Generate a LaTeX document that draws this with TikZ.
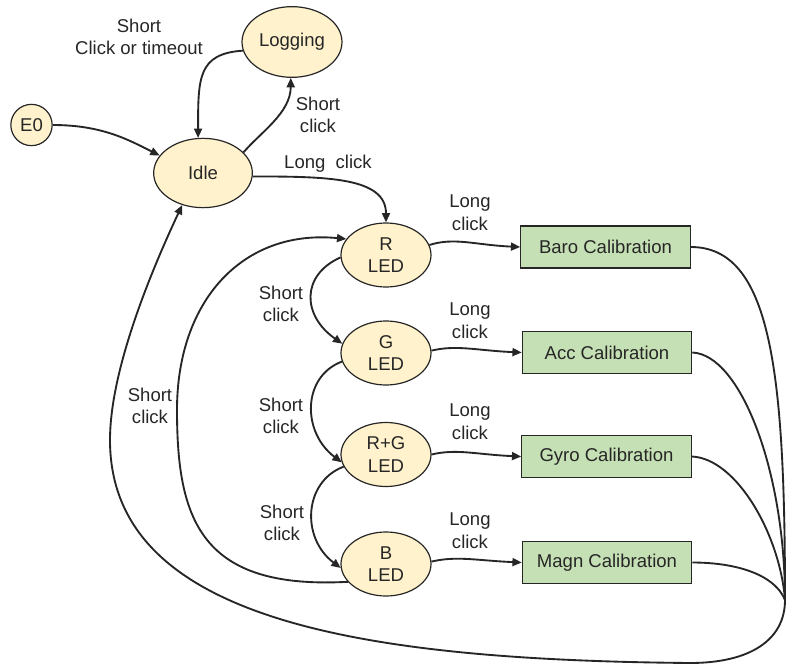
\documentclass[tikz,border=0pt]{standalone}
\usepackage{fontspec}
\setmainfont{Liberation Sans}
\usetikzlibrary{shapes.geometric,arrows.meta}
\definecolor{stateyellow}{RGB}{255,242,204}
\definecolor{calgreen}{RGB}{197,224,180}
\definecolor{inkgrey}{RGB}{38,38,38}

\begin{document}
\begin{tikzpicture}[x=0.75pt,y=0.75pt,yscale=-1,xscale=1,
  every node/.style={font=\fontsize{13.9}{17}\selectfont, text=inkgrey},
  statebox/.style={ellipse, draw=inkgrey, line width=0.9pt, fill=stateyellow, inner sep=0pt, align=center, minimum width=67.5pt, minimum height=48pt},
  calbox/.style={rectangle, draw=inkgrey, line width=0.9pt, fill=calgreen, inner sep=0pt, minimum width=127pt, minimum height=31.5pt},
  clicklbl/.style={align=center, inner sep=0pt},
  conn/.style={draw=inkgrey, line width=1.4pt, -{Triangle[length=7pt,width=6pt]}},
  wire/.style={draw=inkgrey, line width=1.4pt}]
\useasboundingbox (0,0) rectangle (786,667);

% states
\node [statebox, circle, minimum size=31pt] (e0) at (31.5,125) {E0};
\node [statebox, minimum width=75pt, minimum height=53pt] (logging) at (292,42) {Logging};
\node [statebox, minimum width=74pt, minimum height=52pt] (idle) at (203,173) {Idle};
\node [statebox] (rled) at (386,255) {R\\LED};
\node [statebox] (gled) at (386,353) {G\\LED};
\node [statebox] (rgled) at (386,454.5) {R+G\\LED};
\node [statebox] (bled) at (386,564) {B\\LED};

% calibrations
\node [calbox] (baro) at (605.5,247) {Baro Calibration};
\node [calbox] (acc) at (607,352.5) {Acc Calibration};
\node [calbox] (gyro) at (606.5,456.5) {Gyro Calibration};
\node [calbox] (magn) at (607,562.5) {Magn Calibration};

\coordinate (merge) at (785,600);
\coordinate (retB) at (690,663);
\coordinate (retL) at (110,440);
\coordinate (loopL) at (177,410);

% transitions
\draw [conn] (e0.east) .. controls +(50,0) and +(-30,-15) .. (idle.158);
\draw [conn] (logging.190) .. controls +(-45,3) and +(0,-60) .. (idle.98);
\draw [conn] (idle.27) .. controls +(17,-20) and +(0,35) .. (logging.268);
\draw [conn] (idle.-4) .. controls +(75,0) and +(0,-45) .. (rled.north);

\draw [conn] (rled.13) .. controls +(25,-8) and +(-45,-2) .. (baro.west);
\draw [conn] (gled.3) .. controls +(25,-6) and +(-45,-2) .. (acc.west);
\draw [conn] (rgled.0) .. controls +(25,-6) and +(-45,-2) .. (gyro.west);
\draw [conn] (bled.3) .. controls +(25,-6) and +(-45,-2) .. (magn.west);

\draw [conn] (rled.183) .. controls +(-40,18) and +(-40,-28) .. (gled.168);
\draw [conn] (gled.191) .. controls +(-40,15) and +(-40,-30) .. (rgled.190);
\draw [conn] (rgled.196) .. controls +(-40,15) and +(-40,-30) .. (bled.185);
\draw [conn] (bled.205) .. controls +(-147,8) and +(0,110) .. (loopL) .. controls +(0,-110) and +(-103,-10) .. (rled.158);

% back to idle
\draw [wire] (baro.east) .. controls +(80,0) and +(0,-230) .. (merge);
\draw [wire] (acc.east) .. controls +(48,2) and +(0,-130) .. (merge);
\draw [wire] (gyro.east) .. controls +(45,2) and +(-5,-65) .. (merge);
\draw [wire] (magn.east) .. controls +(45,0) and +(-10,-25) .. (merge);
\draw [conn] (merge) .. controls +(0,40) and +(60,0) .. (retB) .. controls +(-330,-3) and +(0,180) .. (retL) .. controls +(0,-70) and +(-31,66) .. (idle.237);

% labels
\node [clicklbl] (lblLogIdle) at (139,37) {Short\\Click or timeout};
\node [clicklbl] (lblIdleLog) at (318,115) {Short\\click};
\node [clicklbl] (lblIdleR) at (328,164) {Long\ \ click};
\node [clicklbl] (lblRBaro) at (470,213) {Long\\click};
\node [clicklbl] (lblGAcc) at (470,320.5) {Long\\click};
\node [clicklbl] (lblRGGyro) at (470,421.5) {Long\\click};
\node [clicklbl] (lblBMagn) at (470,531) {Long\\click};
\node [clicklbl] (lblRG) at (281,304) {Short\\click};
\node [clicklbl] (lblGRG) at (281,416) {Short\\click};
\node [clicklbl] (lblRGB) at (282,523) {Short\\click};
\node [clicklbl] (lblBackIdle) at (150,406) {Short\\click};

\end{tikzpicture}
\end{document}
